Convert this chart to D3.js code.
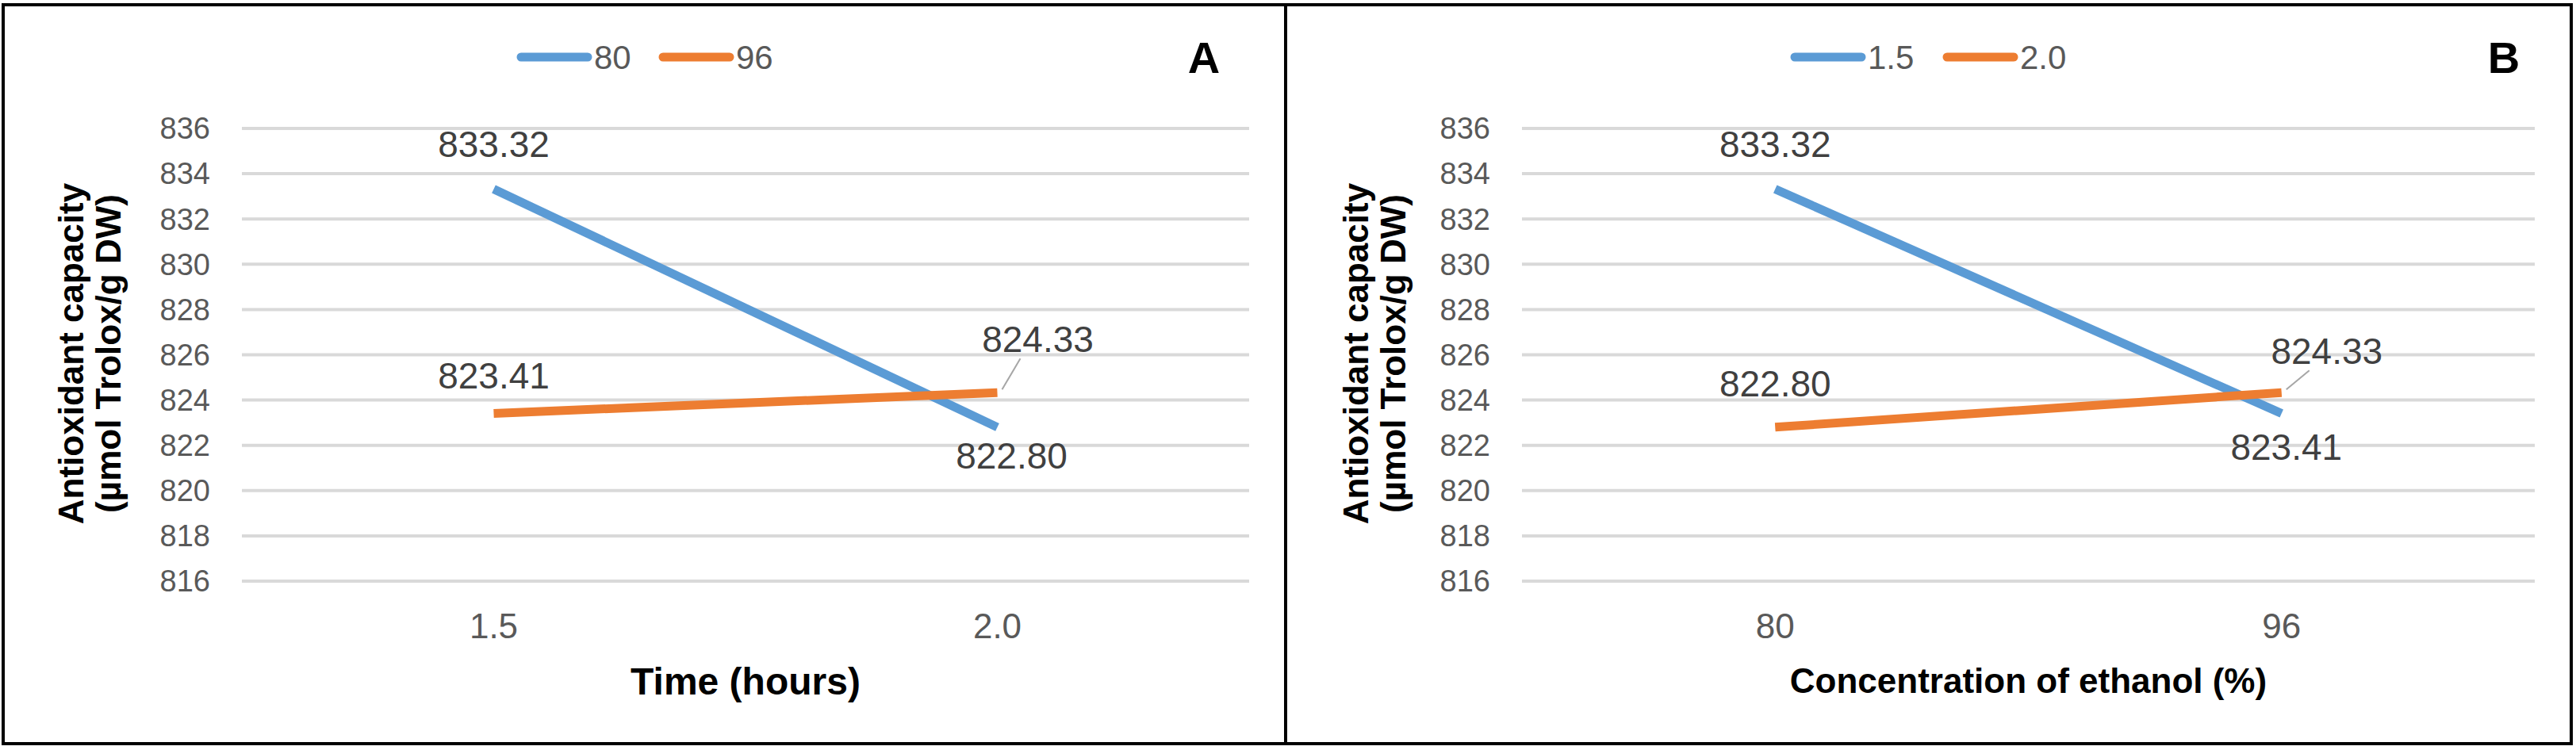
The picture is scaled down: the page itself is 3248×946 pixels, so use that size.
<!DOCTYPE html><html><head><script src="https://d3js.org/d3.v7.min.js"></script>
<style>body{margin:0;background:#fff}</style></head><body><svg width="3248" height="946"></svg>
<script>
const yTicks=[816,818,820,822,824,826,828,830,832,834,836];
const catsA=["1.5","2.0"], seriesA=["80","96"];
const valsA80=[833.32,822.80], valsA96=[823.41,824.33];
const catsB=["80","96"], seriesB=["1.5","2.0"];
const valsB15=[833.32,823.41], valsB20=[822.80,824.33];
const colors=["#5B9BD5","#ED7D31"];
const svg=d3.select("svg");
svg.append("rect").attr("x",4).attr("y",6).attr("width",3238).attr("height",932).attr("fill","none").attr("stroke","#000").attr("stroke-width",4);
svg.append("line").attr("x1",1621).attr("x2",1621).attr("y1",6).attr("y2",938).attr("stroke","#000").attr("stroke-width",4);
const font="Liberation Sans, Arial, sans-serif";
function panel(o){
 const x=d3.scaleBand().domain(o.cats).range([o.x0,o.x1]);
 const y=d3.scaleLinear().domain([816,836]).range([733,162]);
 const g=svg.append("g");
 yTicks.forEach(t=>{g.append("line").attr("x1",o.x0).attr("x2",o.x1).attr("y1",y(t)).attr("y2",y(t)).attr("stroke","#d9d9d9").attr("stroke-width",4);
  g.append("text").attr("x",o.x0-40).attr("y",y(t)).attr("dy","0.35em").attr("text-anchor","end").attr("font-size",38).attr("fill","#595959").attr("font-family",font).text(t);});
 o.cats.forEach(c=>g.append("text").attr("x",x(c)+x.bandwidth()/2).attr("y",790).attr("dy","0.35em").attr("text-anchor","middle").attr("font-size",44).attr("fill","#595959").attr("font-family",font).text(c));
 const line=d3.line().x((d,i)=>x(o.cats[i])+x.bandwidth()/2).y(d=>y(d));
 o.vals.forEach((v,k)=>g.append("path").attr("d",line(v)).attr("fill","none").attr("stroke",colors[k]).attr("stroke-width",11));
 o.labels.forEach(l=>{
  const px=x(o.cats[l.i])+x.bandwidth()/2, py=y(o.vals[l.s][l.i]);
  if(l.leader) g.append("line").attr("x1",px+6).attr("y1",py-4).attr("x2",px+l.dx-22).attr("y2",py+l.dy+24).attr("stroke","#a6a6a6").attr("stroke-width",2);
  g.append("text").attr("x",px+l.dx).attr("y",py+l.dy).attr("dy","0.35em").attr("text-anchor","middle").attr("font-size",46).attr("fill","#404040").attr("font-family",font).text(o.vals[l.s][l.i].toFixed(2));
 });
 o.series.forEach((s,k)=>{const lx=o.legX[k];
  g.append("line").attr("x1",lx).attr("x2",lx+84).attr("y1",72).attr("y2",72).attr("stroke",colors[k]).attr("stroke-width",11).attr("stroke-linecap","round");
  g.append("text").attr("x",lx+92).attr("y",72).attr("dy","0.35em").attr("font-size",42).attr("fill","#595959").attr("font-family",font).text(s);});
 g.append("text").attr("x",o.letX).attr("y",72).attr("dy","0.35em").attr("text-anchor","middle").attr("font-size",56).attr("font-weight","bold").attr("font-family",font).text(o.letter);
 g.append("text").attr("x",(o.x0+o.x1)/2).attr("y",859).attr("dy","0.35em").attr("text-anchor","middle").attr("font-size",o.xfs).attr("font-weight","bold").attr("font-family",font).text(o.xtitle);
 const yt=g.append("text").attr("transform",`translate(${o.ytx},446) rotate(-90)`).attr("text-anchor","middle").attr("font-size",44).attr("font-weight","bold").attr("font-family",font);
 yt.append("tspan").attr("x",0).attr("dy","-0.15em").text(o.yt1);
 yt.append("tspan").attr("x",0).attr("dy","1.05em").text("(µmol Trolox/g DW)");
}
panel({cats:catsA,series:seriesA,vals:[valsA80,valsA96],x0:305,x1:1575,legX:[657,836],letX:1518,letter:"A",xtitle:"Time (hours)",xfs:48,ytx:112,yt1:"Antioxidant capacity",
 labels:[{s:0,i:0,dx:0,dy:-57},{s:1,i:0,dx:0,dy:-48},{s:1,i:1,dx:51,dy:-67,leader:true},{s:0,i:1,dx:18,dy:36}]});
panel({cats:catsB,series:seriesB,vals:[valsB15,valsB20],x0:1919,x1:3196,legX:[2263,2455],letX:3157,letter:"B",xtitle:"Concentration of ethanol (%)",xfs:44,ytx:1732,yt1:"Antioxidant  capacity",
 labels:[{s:0,i:0,dx:0,dy:-57},{s:1,i:0,dx:0,dy:-55},{s:1,i:1,dx:57,dy:-52,leader:true},{s:0,i:1,dx:6,dy:42}]});
</script></body></html>
